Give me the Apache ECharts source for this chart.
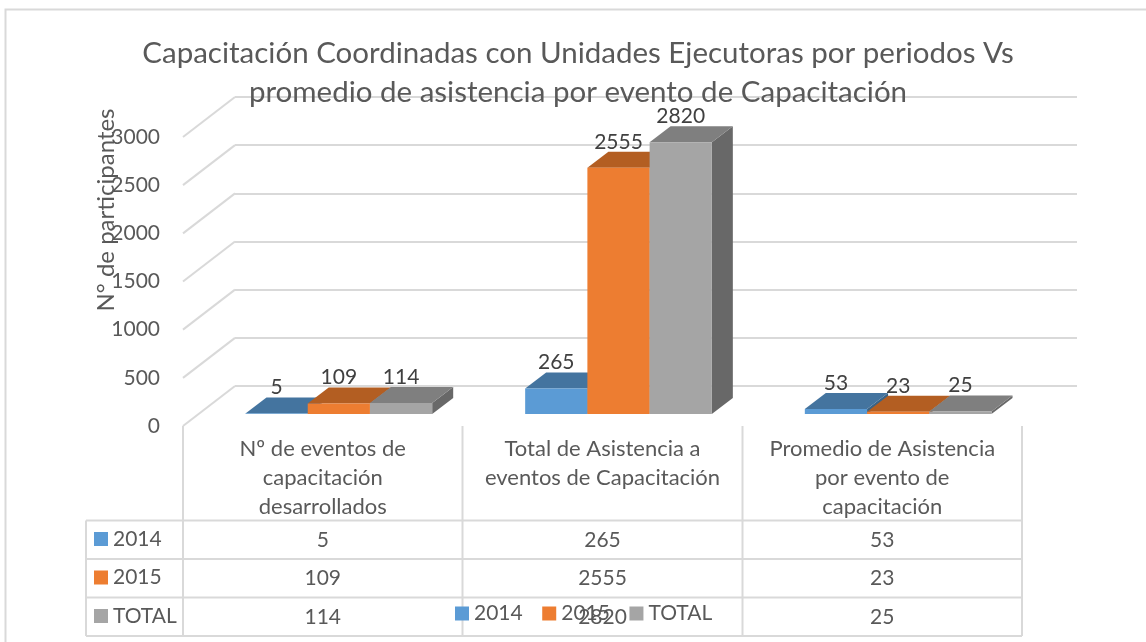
<!DOCTYPE html>
<html>
<head>
<meta charset="utf-8">
<style>
  html, body { margin: 0; padding: 0; background: #fff; }
  #main { width: 1146px; height: 642px; }
</style>
<script src="https://cdn.jsdelivr.net/npm/echarts@6/dist/echarts.min.js"></script>
</head>
<body>
<div id="main"></div>
<script>
const titleLines = ['Capacitación Coordinadas con Unidades Ejecutoras por periodos Vs', 'promedio de asistencia por evento de Capacitación'];
const yAxisTitle = 'N° de participantes';
const categories = ['Nº de eventos de\ncapacitación\ndesarrollados', 'Total de Asistencia a\neventos de Capacitación', 'Promedio de Asistencia\npor evento de\ncapacitación'];
const seriesNames = ['2014', '2015', 'TOTAL'];
const values2014 = [5, 265, 53];
const values2015 = [109, 2555, 23];
const valuesTotal = [114, 2820, 25];
const allValues = [values2014, values2015, valuesTotal];

const font = 'Lato';
const textColor = '#595959';
const lineColor = '#d9d9d9';
const frontColors = ['#5b9bd5', '#ed7d31', '#a5a5a5'];
const topColors = ['#44749f', '#b35e22', '#7f7f7f'];
const sideColors = ['#3a6386', '#8f4b1b', '#686868'];

const depthX = 21, depthY = 16, barRatio = 0.2225;

// one 3d bar: front face, top and side, all from the axis scale
function renderBar(seriesIndex, params, api) {
  const cat = api.value(0), val = api.value(1);
  const top = api.coord([cat, val]);
  const base = api.coord([cat, 0]);
  const w = api.size([1, 0])[0] * barRatio;
  const x0 = top[0] + (seriesIndex - 1.5) * w;
  const x1 = x0 + w;
  const y0 = top[1], y1 = base[1];
  const poly = (pts, fill) => ({ type: 'polygon', shape: { points: pts }, style: { fill: fill } });
  return {
    type: 'group',
    children: [
      poly([[x1, y0], [x1 + depthX, y0 - depthY], [x1 + depthX, y1 - depthY], [x1, y1]], sideColors[seriesIndex]),
      poly([[x0, y0], [x0 + depthX, y0 - depthY], [x1 + depthX, y0 - depthY], [x1, y0]], topColors[seriesIndex]),
      poly([[x0, y0], [x1, y0], [x1, y1], [x0, y1]], frontColors[seriesIndex]),
      { type: 'text', z2: 50, style: { text: String(val), x: (x0 + x1) / 2, y: y0 - 26, align: 'center', verticalAlign: 'middle', font: '21px ' + font, fill: '#404040' } }
    ]
  };
}

// diagonal lines of the side wall, from the front axis to the back wall
function renderSideLine(params, api) {
  const p = api.coord([0, api.value(0)]);
  const left = p[0] - api.size([1, 0])[0] / 2;
  return { type: 'line', shape: { x1: left, y1: p[1], x2: left + 52, y2: p[1] - 40 }, style: { stroke: lineColor, lineWidth: 2 } };
}

const yTicks = [0, 500, 1000, 1500, 2000, 2500, 3000];

// data table
const tableX = [86, 183, 462.5, 742.5, 1022];
const tableY = [426, 520.5, 559, 597.5, 636];
const tableGraphics = [];
const addLine = (x1, y1, x2, y2) => tableGraphics.push({ type: 'line', shape: { x1, y1, x2, y2 }, style: { stroke: lineColor, lineWidth: 2 } });
const addText = (text, x, y, align, size) => tableGraphics.push({ type: 'text', z: 5, style: { text, x, y, align, verticalAlign: 'middle', font: size + 'px ' + font, fill: textColor } });
tableY.slice(1).forEach(y => addLine(tableX[0], y, tableX[4], y));
tableX.forEach((x, i) => addLine(x, i === 0 ? tableY[1] : tableY[0], x, tableY[4]));
categories.forEach((c, i) => {
  const cx = (tableX[i + 1] + tableX[i + 2]) / 2;
  const lines = c.split('\n');
  lines.forEach((l, k) => addText(l, cx, 449 + k * 29, 'center', 22));
  allValues.forEach((vals, s) => addText(String(vals[i]), cx, 540 + s * 38.5, 'center', 21));
});
seriesNames.forEach((n, s) => {
  const cy = 539 + s * 38.5;
  tableGraphics.push({ type: 'rect', shape: { x: 94, y: cy - 7, width: 14, height: 14 }, style: { fill: frontColors[s] } });
  addText(n, 113, cy, 'left', 21);
});

const option = {
  animation: false,
  backgroundColor: '#fff',
  title: {
    text: titleLines.join('\n'),
    left: 573, top: 29, textAlign: 'center',
    textStyle: { fontFamily: font, fontSize: 29.5, fontWeight: 'normal', color: textColor, lineHeight: 39 }
  },
  legend: {
    data: seriesNames, left: 455, top: 603, padding: 0, itemWidth: 14, itemHeight: 14, itemGap: 19.5, icon: 'rect', z: 6,
    textStyle: { fontFamily: font, fontSize: 21, color: textColor, padding: [0, 0, 3, 0] }
  },
  grid: [
    { left: 183, width: 839, top: 137, height: 289 }, // front axis plane
    { left: 235, width: 842, top: 97, height: 289 },  // back wall
    { left: 199, width: 839, top: 125, height: 289 }  // plane of the bars
  ],
  xAxis: [0, 1, 2].map(i => ({ gridIndex: i, type: 'category', data: categories, show: false })),
  yAxis: [
    { gridIndex: 0, type: 'value', min: 0, max: 3000, interval: 500, axisLine: { show: false }, axisTick: { show: false }, splitLine: { show: false }, axisLabel: { margin: 23, padding: [3, 0, 0, 0], fontFamily: font, fontSize: 21, color: textColor, formatter: v => String(v) } },
    { gridIndex: 1, type: 'value', min: 0, max: 3000, interval: 500, axisLine: { show: false }, axisTick: { show: false }, axisLabel: { show: false }, splitLine: { lineStyle: { color: lineColor, width: 2 } } },
    { gridIndex: 2, type: 'value', min: 0, max: 3000, show: false }
  ],
  graphic: [
    { type: 'rect', shape: { x: 5.5, y: 9.5, width: 1200, height: 700 }, style: { fill: 'none', stroke: lineColor, lineWidth: 2 } },
    { type: 'text', rotation: Math.PI / 2, x: 106, y: 210, style: { text: yAxisTitle, align: 'center', verticalAlign: 'middle', font: '24px ' + font, fill: textColor } }
  ].concat(tableGraphics),
  series: [
    { type: 'custom', name: 'walls', xAxisIndex: 0, yAxisIndex: 0, silent: true, data: yTicks.map(t => [t]), renderItem: renderSideLine, encode: { y: 0 } }
  ].concat(seriesNames.map((name, s) => ({
    type: 'custom', name, xAxisIndex: 2, yAxisIndex: 2, z: 3 + s,
    itemStyle: { color: frontColors[s] },
    data: allValues[s].map((v, i) => [i, v]),
    encode: { x: 0, y: 1 },
    renderItem: (params, api) => renderBar(s, params, api)
  })))
};

const chart = echarts.init(document.getElementById('main'));
chart.setOption(option);
</script>
</body>
</html>
